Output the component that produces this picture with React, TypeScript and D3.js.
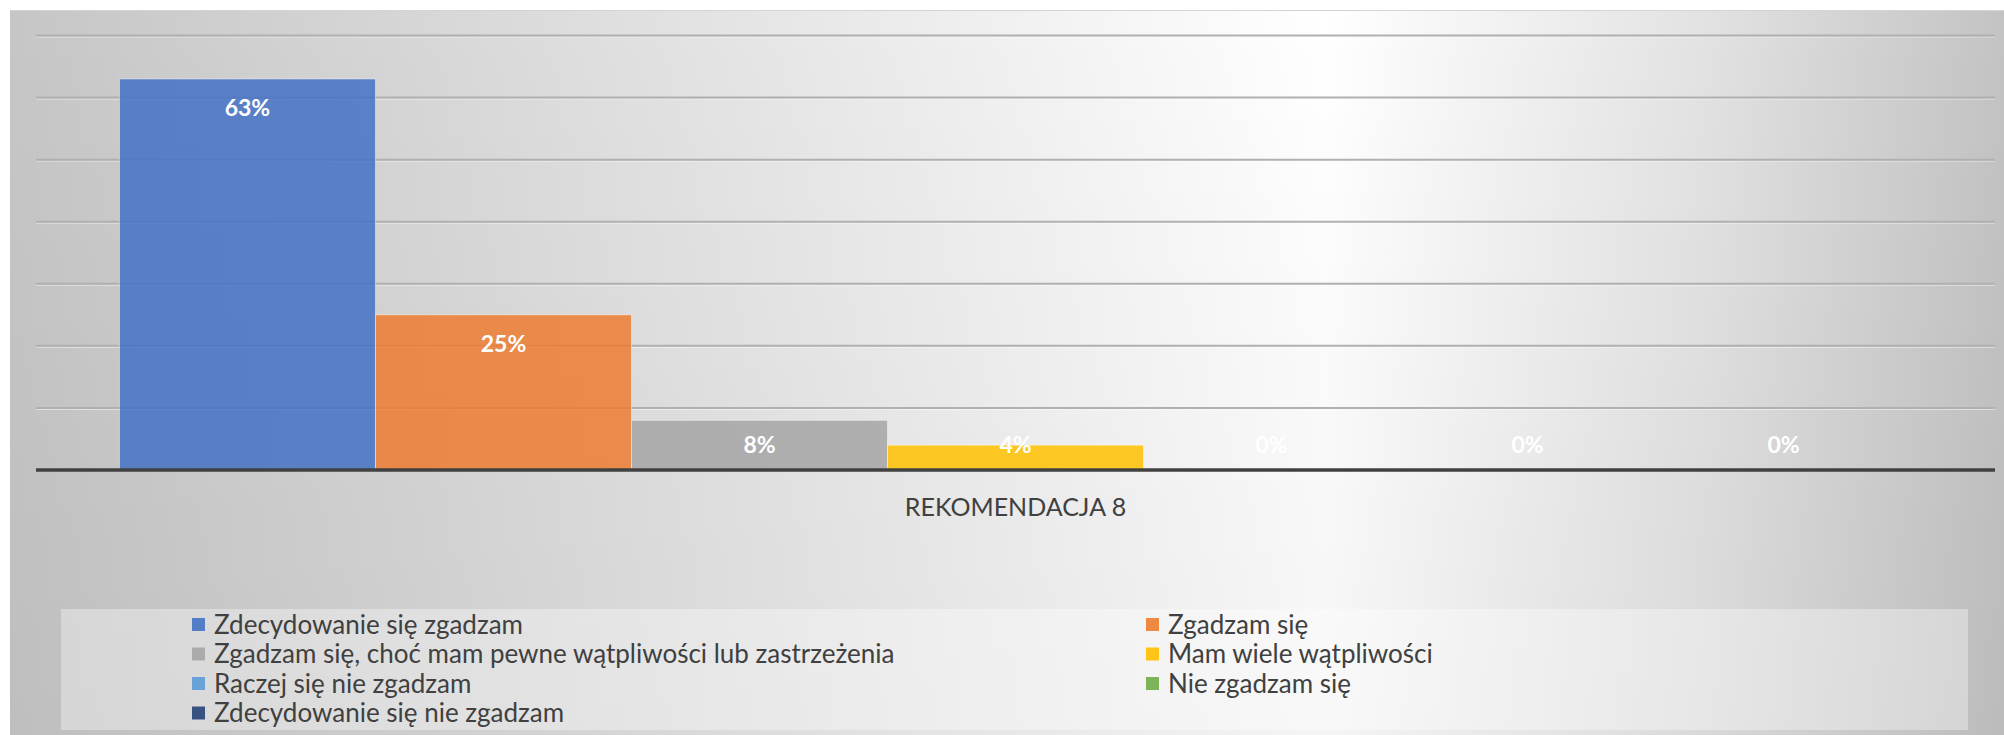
import React from 'react';
import * as d3 from 'd3';

const seriesNames = [
  'Zdecydowanie się zgadzam',
  'Zgadzam się',
  'Zgadzam się, choć mam pewne wątpliwości lub zastrzeżenia',
  'Mam wiele wątpliwości',
  'Raczej się nie zgadzam',
  'Nie zgadzam się',
  'Zdecydowanie się nie zgadzam',
];
const seriesValues = [0.63, 0.25, 0.08, 0.04, 0, 0, 0];
const seriesColors = ['#4472C4', '#ED7D31', '#A5A5A5', '#FFC000', '#5B9BD5', '#70AD47', '#264478'];
const categoryLabel = 'REKOMENDACJA 8';
const yTicks = [0, 0.1, 0.2, 0.3, 0.4, 0.5, 0.6, 0.7];

const W = 2004;
const H = 735;
const FONT = 'Lato, "Open Sans", sans-serif';

const App: React.FC = () => {
  const plotLeft = 36;
  const plotRight = 1995;
  const plotTop = 35.5;
  const plotBottom = 470;

  const x = d3.scaleBand<string>()
    .domain(seriesNames)
    .range([plotLeft, plotRight])
    .paddingInner(0)
    .paddingOuter(0.326);

  const y = d3.scaleLinear().domain([0, 0.7]).range([plotBottom, plotTop]);
  const fmt = d3.format('.0%');

  // legend layout: two columns, rows filled left to right
  const legendCols = [192, 1146];
  const legendRow0 = 624.5;
  const legendRowStep = 29.5;

  return (
    <svg width={W} height={H} style={{ position: 'absolute', left: 0, top: 0 }}>
      <defs>
        <linearGradient id="bgH" x1="0" x2="1" y1="0" y2="0">
          <stop offset="0" stopColor="#c6c6c6" />
          <stop offset="0.2" stopColor="#d6d6d6" />
          <stop offset="0.45" stopColor="#ececec" />
          <stop offset="0.66" stopColor="#ffffff" />
          <stop offset="0.85" stopColor="#e2e2e2" />
          <stop offset="1" stopColor="#c3c3c3" />
        </linearGradient>
        <linearGradient id="bgV" x1="0" x2="0" y1="0" y2="1">
          <stop offset="0" stopColor="#000" stopOpacity="0" />
          <stop offset="1" stopColor="#000" stopOpacity="0.04" />
        </linearGradient>
      </defs>
      <rect x={0} y={0} width={W} height={H} fill="#fff" />
      <rect x={10} y={10} width={W - 10} height={H - 10} fill="url(#bgH)" />
      <rect x={10} y={10} width={W - 10} height={H - 10} fill="url(#bgV)" />
      <line x1={10} x2={W} y1={10.5} y2={10.5} stroke="#d4d4d4" strokeWidth={1} />

      {/* gridlines */}
      {yTicks.filter(t => t > 0).map(t => (
        <g key={t}>
          <line x1={plotLeft} x2={plotRight} y1={y(t) + 1.5} y2={y(t) + 1.5} stroke="#ffffff" strokeOpacity={0.5} strokeWidth={1} />
          <line x1={plotLeft} x2={plotRight} y1={y(t)} y2={y(t)} stroke="#b0b0b0" strokeWidth={2} />
        </g>
      ))}

      {/* bars */}
      {seriesNames.map((s, i) => (
        <rect
          key={s}
          x={x(s)}
          y={y(seriesValues[i])}
          width={x.bandwidth()}
          height={plotBottom - y(seriesValues[i])}
          fill={seriesColors[i]}
          fillOpacity={0.85}
          stroke="#ffffff"
          strokeOpacity={0.45}
          strokeWidth={1}
        />
      ))}

      {/* axis */}
      <line x1={plotLeft} x2={plotRight} y1={plotBottom} y2={plotBottom} stroke="#404040" strokeWidth={3.5} />

      {/* data labels */}
      {seriesNames.map((s, i) => (
        <text
          key={s}
          x={(x(s) || 0) + x.bandwidth() / 2}
          y={Math.min(y(seriesValues[i]) + 29, plotBottom - 25)}
          dy="0.36em"
          textAnchor="middle"
          fill="#ffffff"
          fontFamily={FONT}
          fontWeight="bold"
          fontSize={23}
        >
          {fmt(seriesValues[i])}
        </text>
      ))}

      <text
        x={(plotLeft + plotRight) / 2}
        y={507}
        dy="0.36em"
        textAnchor="middle"
        fill="#404040"
        fontFamily={FONT}
        fontSize={25}
      >
        {categoryLabel}
      </text>

      {/* legend */}
      <rect x={61} y={609} width={1907} height={121} fill="#ffffff" fillOpacity={0.35} />
      {seriesNames.map((s, i) => {
        const cx = legendCols[i % 2];
        const cy = legendRow0 + Math.floor(i / 2) * legendRowStep;
        return (
          <g key={s}>
            <rect x={cx} y={cy - 6.5} width={13} height={13} fill={seriesColors[i]} fillOpacity={0.9} />
            <text x={cx + 22} y={cy} dy="0.36em" fill="#404040" fontFamily={FONT} fontSize={26}>
              {s}
            </text>
          </g>
        );
      })}
    </svg>
  );
};

export default App;
